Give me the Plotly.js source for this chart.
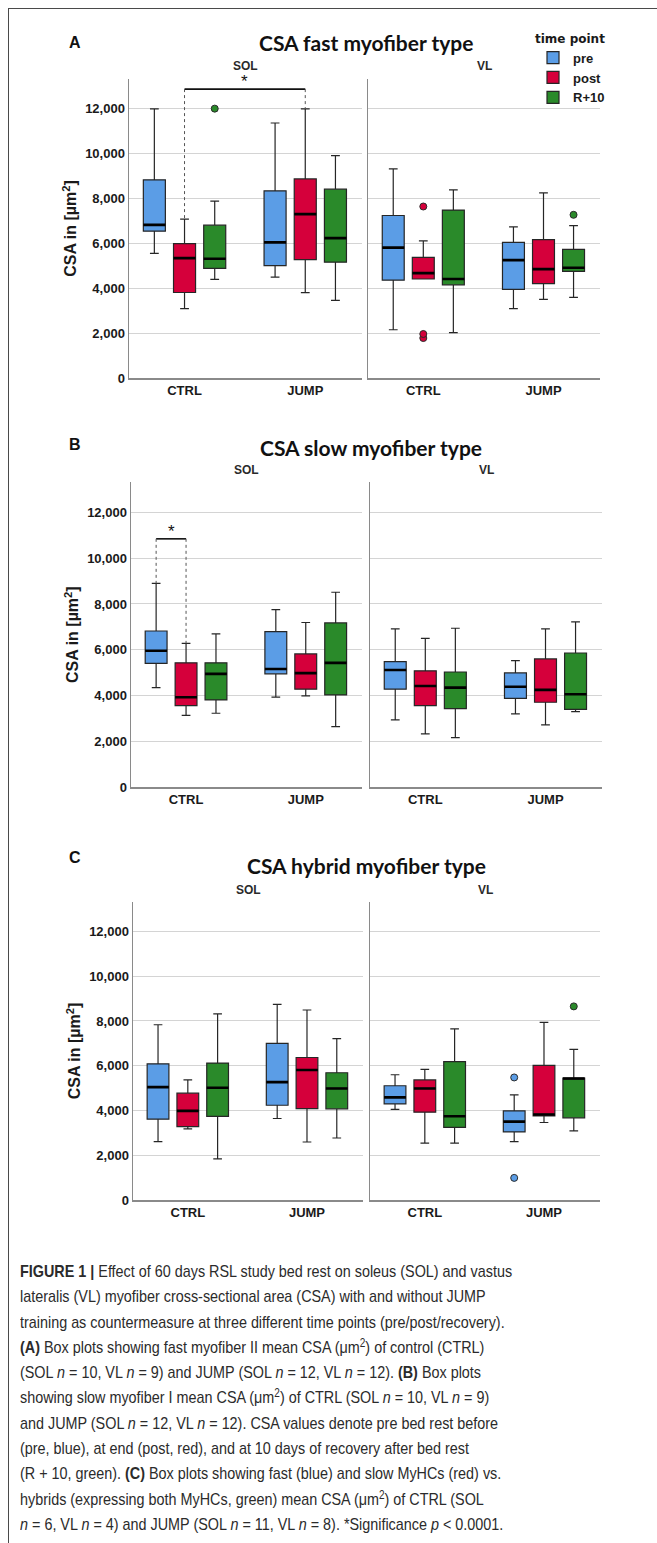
<!DOCTYPE html>
<html>
<head>
<meta charset="utf-8">
<script src="https://cdn.plot.ly/plotly-3.0.1.min.js"></script>
<style>
html,body{margin:0;padding:0;background:#fff;}
#frame{position:absolute;left:8px;top:8px;width:660px;height:1540px;border-left:1.5px solid #4a4a4a;border-top:1.5px solid #4a4a4a;}
#chart{position:absolute;left:0;top:0;width:657px;height:1230px;}
#cap{position:absolute;left:20px;top:1259px;font-family:"Liberation Sans",Arial,sans-serif;font-size:17px;line-height:25.3px;color:#2b2b2b;white-space:nowrap;transform-origin:0 0;}
#cap sup{font-size:0.7em;line-height:0;vertical-align:0.5em;}
</style>
</head>
<body>
<div id="frame"></div>
<div id="chart"></div>
<div id="cap"><b>FIGURE 1 |</b> Effect of 60 days RSL study bed rest on soleus (SOL) and vastus<br>lateralis (VL) myofiber cross-sectional area (CSA) with and without JUMP<br>training as countermeasure at three different time points (pre/post/recovery).<br><b>(A)</b> Box plots showing fast myofiber II mean CSA (μm<sup>2</sup>) of control (CTRL)<br>(SOL <i>n</i> = 10, VL <i>n</i> = 9) and JUMP (SOL <i>n</i> = 12, VL <i>n</i> = 12). <b>(B)</b> Box plots<br>showing slow myofiber I mean CSA (μm<sup>2</sup>) of CTRL (SOL <i>n</i> = 10, VL <i>n</i> = 9)<br>and JUMP (SOL <i>n</i> = 12, VL <i>n</i> = 12). CSA values denote pre bed rest before<br>(pre, blue), at end (post, red), and at 10 days of recovery after bed rest<br>(R + 10, green). <b>(C)</b> Box plots showing fast (blue) and slow MyHCs (red) vs.<br>hybrids (expressing both MyHCs, green) mean CSA (μm<sup>2</sup>) of CTRL (SOL<br><i>n</i> = 6, VL <i>n</i> = 4) and JUMP (SOL <i>n</i> = 11, VL <i>n</i> = 8). *Significance <i>p</i> &lt; 0.0001.</div>
<script>
// ---------- categories ----------
const groups = ['CTRL', 'JUMP'];
const timePoints = ['pre', 'post', 'R+10'];
const muscles = ['SOL', 'VL'];
const panelTitles = ['CSA fast myofiber type', 'CSA slow myofiber type', 'CSA hybrid myofiber type'];
const panelLetters = ['A', 'B', 'C'];
const yTickVals = [0, 2000, 4000, 6000, 8000, 10000, 12000];

// ---------- box statistics: [lowerfence, q1, median, q3, upperfence] for [CTRL, JUMP] ----------
// Panel A: fast myofiber type
const fastSOLpre  = [[5550, 6540, 6820, 8830, 11990], [4490, 5010, 6040, 8340, 11360]];
const fastSOLpost = [[3090, 3810, 5340, 5990, 7080], [3800, 5270, 7300, 8870, 11990]];
const fastSOLr10  = [[4390, 4880, 5310, 6810, 7880], [3460, 5160, 6230, 8410, 9910]];
const fastVLpre   = [[2150, 4360, 5810, 7240, 9320], [3090, 3950, 5250, 6040, 6730]];
const fastVLpost  = [[4410, 4410, 4670, 5370, 6110], [3500, 4200, 4850, 6160, 8250]];
const fastVLr10   = [[2020, 4150, 4410, 7480, 8380], [3590, 4750, 4910, 5730, 6790]];
// Panel B: slow myofiber type
const slowSOLpre  = [[4350, 5410, 5960, 6820, 8900], [3930, 4950, 5160, 6790, 7750]];
const slowSOLpost = [[3140, 3560, 3930, 5430, 6280], [3990, 4280, 4980, 5820, 7190]];
const slowSOLr10  = [[3230, 3810, 4950, 5430, 6690], [2650, 4030, 5430, 7170, 8510]];
const slowVLpre   = [[2940, 4280, 5120, 5480, 6910], [3200, 3880, 4390, 4990, 5530]];
const slowVLpost  = [[2330, 3560, 4420, 5080, 6500], [2720, 3710, 4250, 5600, 6910]];
const slowVLr10   = [[2170, 3430, 4350, 5030, 6940], [3300, 3400, 4060, 5860, 7220]];
// Panel C: hybrid myofiber type
const hybSOLpre   = [[2620, 3620, 5050, 6090, 7830], [3650, 4240, 5270, 7000, 8740]];
const hybSOLpost  = [[3190, 3290, 3990, 4780, 5370], [2600, 4090, 5810, 6370, 8490]];
const hybSOLr10   = [[1850, 3740, 5020, 6120, 8320], [2780, 4080, 4990, 5690, 7210]];
const hybVLpre    = [[4060, 4300, 4590, 5110, 5600], [2620, 3050, 3510, 3990, 4700]];
const hybVLpost   = [[2550, 3930, 4990, 5370, 5840], [3470, 3770, 3830, 6020, 7940]];
const hybVLr10    = [[2550, 3250, 3750, 6190, 7650], [3100, 3680, 5430, 5450, 6730]];

// ---------- outliers: [CTRL points, JUMP points] (null = none) ----------
const fastSOLr10Out = [[12000], [null]];
const fastVLpostOut = [[7640, 1960, 1780], [null]];
const fastVLr10Out  = [[null], [7270]];
const hybVLpreOut   = [[null], [5480, 1000]];
const hybVLr10Out   = [[null], [8650]];
const noOut = null;

// ---------- significance brackets (height in µm²) ----------
const sigA = {from: ['CTRL', 'post'], to: ['JUMP', 'post'], y: 12870};
const sigB = {from: ['CTRL', 'pre'], to: ['CTRL', 'post'], y: 10840};

// ---------- styling ----------
const colors = ['#5b9de6', '#d5003b', '#2a8a2a'];
const BOXGAP = 0.25, BOXGROUPGAP = 0.27;
const tickFont = {family: 'Liberation Sans, Arial, sans-serif', size: 13, color: '#1a1a1a', weight: 'bold'};

const panels = [
  {sets: [[fastSOLpre, fastSOLpost, fastSOLr10], [fastVLpre, fastVLpost, fastVLr10]],
   outs: [[noOut, noOut, fastSOLr10Out], [noOut, fastVLpostOut, fastVLr10Out]],
   xd: [[129, 362], [368, 600]], yd: [79, 378], letterY: 42, titleX: 366, titleY: 43, subY: 66, sig: sigA},
  {sets: [[slowSOLpre, slowSOLpost, slowSOLr10], [slowVLpre, slowVLpost, slowVLr10]],
   outs: [[noOut, noOut, noOut], [noOut, noOut, noOut]],
   xd: [[131, 362], [370, 602]], yd: [482, 787.3], letterY: 444, titleX: 371, titleY: 447, subY: 470, sig: sigB},
  {sets: [[hybSOLpre, hybSOLpost, hybSOLr10], [hybVLpre, hybVLpost, hybVLr10]],
   outs: [[noOut, noOut, noOut], [hybVLpreOut, noOut, hybVLr10Out]],
   xd: [[133, 363], [370, 600]], yd: [901.7, 1200.3], letterY: 858, titleX: 366, titleY: 865, subY: 890, sig: null}
];

const W = 657, H = 1230;
const px = v => v / W;
const py = v => 1 - v / H;

const traces = [];
const medianTraces = [];
const layout = {
  width: W, height: H, autosize: false,
  margin: {l: 0, r: 0, t: 0, b: 0},
  paper_bgcolor: 'rgba(0,0,0,0)', plot_bgcolor: 'rgba(0,0,0,0)',
  boxmode: 'group', boxgap: BOXGAP, boxgroupgap: BOXGROUPGAP,
  showlegend: true,
  legend: {
    x: px(533), y: py(27), xanchor: 'left', yanchor: 'top',
    bgcolor: 'rgba(0,0,0,0)', itemwidth: 30, tracegroupgap: 0, traceorder: 'normal',
    font: {family: 'Liberation Sans, Arial, sans-serif', size: 13, color: '#1a1a1a', weight: 'bold'},
    title: {text: 'time point', font: {family: 'DejaVu Sans, Verdana, sans-serif', size: 12, color: '#1a1a1a', weight: 'bold'}}
  },
  annotations: [], shapes: []
};

// offset of a time-point box from its category centre (in category units)
const slotOffset = t => (t - (timePoints.length - 1) / 2) * (1 - BOXGAP) / timePoints.length;

panels.forEach((p, pi) => {
  muscles.forEach((m, mi) => {
    const n = pi * 2 + mi + 1;
    const xa = n === 1 ? 'x' : 'x' + n;
    const ya = n === 1 ? 'y' : 'y' + n;
    const xKey = n === 1 ? 'xaxis' : 'xaxis' + n;
    const yKey = n === 1 ? 'yaxis' : 'yaxis' + n;
    p.sets[mi].forEach((stats, t) => {
      const tr = {
        type: 'box', orientation: 'v', xaxis: xa, yaxis: ya,
        alignmentgroup: 'sub' + n, offsetgroup: timePoints[t],
        x: groups,
        lowerfence: stats.map(s => s[0]), q1: stats.map(s => s[1]), median: stats.map(s => s[2]),
        q3: stats.map(s => s[3]), upperfence: stats.map(s => s[4]),
        boxpoints: false,
        name: timePoints[t], legendgroup: timePoints[t], showlegend: n === 1,
        fillcolor: colors[t], whiskerwidth: 0.4,
        line: {color: '#262626', width: 1.2},
        marker: {color: colors[t], size: 7, line: {color: '#2a2a2a', width: 1}},
        hoverinfo: 'skip'
      };
      const out = p.outs[mi][t];
      if (out) { tr.y = out; tr.boxpoints = 'outliers'; tr.jitter = 0; tr.pointpos = 0; }
      traces.push(tr);
      // thick median bar drawn in the same slot
      const med = stats.map(s => s[2]);
      medianTraces.push({
        type: 'box', orientation: 'v', xaxis: xa, yaxis: ya,
        alignmentgroup: 'sub' + n, offsetgroup: timePoints[t],
        x: groups, lowerfence: med, q1: med, median: med, q3: med, upperfence: med,
        boxpoints: false, name: timePoints[t], legendgroup: timePoints[t], showlegend: false,
        fillcolor: 'rgba(0,0,0,0)', whiskerwidth: 0,
        line: {color: '#000', width: 2.6}, hoverinfo: 'skip'
      });
    });
    layout[xKey] = {
      domain: [px(p.xd[mi][0]), px(p.xd[mi][1])], anchor: ya,
      type: 'category', range: [-0.46, 1.47], categoryorder: 'array', categoryarray: groups,
      showline: true, linecolor: '#8a8a8a', linewidth: 1.5, showgrid: false, zeroline: false,
      ticks: '', tickfont: tickFont, fixedrange: true
    };
    layout[yKey] = {
      domain: [py(p.yd[1]), py(p.yd[0])], anchor: xa,
      range: [0, 13320], tickvals: yTickVals, tickformat: ',d',
      showline: true, linecolor: '#8a8a8a', linewidth: 1.5,
      showgrid: true, gridcolor: '#d4d4d4', gridwidth: 1, zeroline: false,
      ticks: '', showticklabels: mi === 0, tickfont: tickFont, fixedrange: true
    };
    if (mi === 0) {
      layout[yKey].title = {text: 'CSA in [µm<sup>2</sup>]', standoff: 4,
        font: {family: 'Liberation Sans, Arial, sans-serif', size: 16, color: '#1a1a1a', weight: 'bold'}};
    }
    layout.annotations.push({
      xref: 'paper', yref: 'paper', x: px((p.xd[mi][0] + p.xd[mi][1]) / 2), y: py(p.subY),
      xanchor: 'center', yanchor: 'middle', showarrow: false, text: m,
      font: {family: 'Liberation Sans, Arial, sans-serif', size: 12, color: '#2a2a2a', weight: 'bold'}
    });
  });
  layout.annotations.push({
    xref: 'paper', yref: 'paper', x: px(67), y: py(p.letterY), xanchor: 'left', yanchor: 'middle',
    showarrow: false, text: panelLetters[pi],
    font: {family: 'Liberation Sans, Arial, sans-serif', size: 16, color: '#111', weight: 'bold'}
  });
  layout.annotations.push({
    xref: 'paper', yref: 'paper', x: px(p.titleX), y: py(p.titleY), xanchor: 'center', yanchor: 'middle',
    showarrow: false, text: panelTitles[pi],
    font: {family: 'Lato, Open Sans, sans-serif', size: 21, color: '#111', weight: 'bold'}
  });
  if (p.sig) {
    const n = pi * 2 + 1;
    const xa = n === 1 ? 'x' : 'x' + n;
    const ya = n === 1 ? 'y' : 'y' + n;
    const stats = p.sets[0];
    const xs = [p.sig.from, p.sig.to].map(([g, tp]) => groups.indexOf(g) + slotOffset(timePoints.indexOf(tp)));
    const tops = [p.sig.from, p.sig.to].map(([g, tp]) => stats[timePoints.indexOf(tp)][groups.indexOf(g)][4]);
    layout.shapes.push({type: 'line', xref: xa, yref: ya, x0: xs[0], x1: xs[1], y0: p.sig.y, y1: p.sig.y,
      line: {color: '#111', width: 1.6}});
    xs.forEach((xv, k) => layout.shapes.push({type: 'line', xref: xa, yref: ya, x0: xv, x1: xv, y0: p.sig.y, y1: tops[k],
      line: {color: '#555', width: 1, dash: 'dot'}}));
    layout.annotations.push({xref: xa, yref: ya, x: (xs[0] + xs[1]) / 2, y: p.sig.y, yanchor: 'bottom', yshift: -4,
      showarrow: false, text: '*', font: {family: 'Liberation Sans, Arial, sans-serif', size: 17, color: '#111'}});
  }
});

Plotly.newPlot('chart', traces.concat(medianTraces), layout, {staticPlot: true, displayModeBar: false}).then(() => {
  const cap = document.getElementById('cap');
  const w = cap.scrollWidth;
  if (w > 0) cap.style.transform = 'scaleX(' + (492 / w).toFixed(4) + ')';
});
</script>
</body>
</html>
